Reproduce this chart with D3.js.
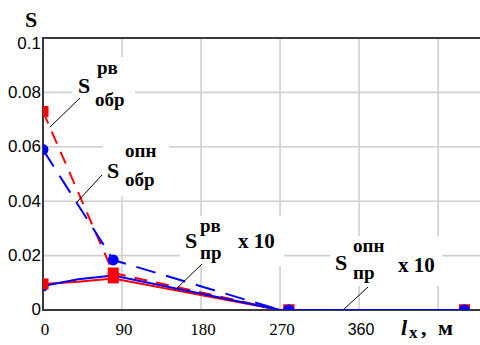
<!DOCTYPE html>
<html>
<head>
    <meta charset="utf-8">
    <script src="https://d3js.org/d3.v7.min.js"></script>
    <style>
        body { margin: 0; background: #fff; }
    </style>
</head>
<body>
    <div id="chart"></div>

    <script>
        // Line points
        const xLine = [0, 40, 80, 270, 480];
        const sObrRv = [0.073, 0.0433, 0.0136, 0, 0];
        const sObrOpn = [0.059, 0.0386, 0.0184, 0, 0];
        const sPrRv10 = [0.0096, 0.0104, 0.0116, 0, 0];
        const sPrOpn10 = [0.0088, 0.0113, 0.0127, 0, 0];

        // Marker points
        const xMark = [0, 80, 280, 480];
        const mObrRv = [0.073, 0.0136, 0, 0];
        const mObrOpn = [0.059, 0.0184, 0, 0];
        const mPrRv10 = [0.0096, 0.0118, 0, 0];
        const mPrOpn10 = [0.0088, 0.0127, 0, 0];

        const xTicks = [0, 90, 180, 270, 360, 450];
        const yTicks = [0, 0.02, 0.04, 0.06, 0.08, 0.1];

        const SERIF = "Liberation Serif, DejaVu Serif, Noto Serif, serif";
        const SANS = "Liberation Sans, Arial, sans-serif";

        const W = 480, H = 345;
        const pLeft = 43, pTop = 38, pBottom = 310, pRight = 482;

        const svg = d3.select("#chart").append("svg")
            .attr("width", W)
            .attr("height", H);

        const x = d3.scaleLinear().domain([0, 500]).range([pLeft, pRight]);
        const y = d3.scaleLinear().domain([0, 0.1]).range([pBottom, pTop]);

        svg.append("clipPath").attr("id", "plot")
            .append("rect")
            .attr("x", pLeft).attr("y", pTop)
            .attr("width", pRight - pLeft).attr("height", pBottom - pTop);

        // grid
        svg.append("g").selectAll("line")
            .data(yTicks.filter(d => d > 0 && d < 0.1))
            .join("line")
            .attr("x1", pLeft).attr("x2", W)
            .attr("y1", d => y(d)).attr("y2", d => y(d))
            .attr("stroke", "#d0d0d0").attr("stroke-width", 1.6);
        svg.append("g").selectAll("line")
            .data(xTicks.filter(d => d > 0))
            .join("line")
            .attr("x1", d => x(d)).attr("x2", d => x(d))
            .attr("y1", pTop).attr("y2", pBottom)
            .attr("stroke", "#d0d0d0").attr("stroke-width", 1.6);

        // label boxes hide the grid
        const boxes = [[72, 57, 63, 56], [103, 108, 66, 88], [180, 216, 104, 50], [330, 236, 112, 50]];
        svg.append("g").selectAll("rect")
            .data(boxes)
            .join("rect")
            .attr("x", d => d[0]).attr("y", d => d[1])
            .attr("width", d => d[2]).attr("height", d => d[3])
            .attr("fill", "#fff");

        // frame
        const frame = svg.append("g").attr("stroke", "#3a3a3a").attr("stroke-width", 2);
        frame.append("line").attr("x1", pLeft).attr("x2", W).attr("y1", pTop).attr("y2", pTop);
        frame.append("line").attr("x1", pLeft).attr("x2", pLeft).attr("y1", pTop - 1).attr("y2", pBottom + 1);
        frame.append("line").attr("x1", pLeft).attr("x2", W).attr("y1", pBottom).attr("y2", pBottom);

        // data
        const plot = svg.append("g").attr("clip-path", "url(#plot)");
        const line = d3.line().x((d, i) => x(xLine[i])).y(d => y(d));

        const series = [
            { v: sPrRv10, m: mPrRv10, color: "red", dash: null, shape: "sq" },
            { v: sObrRv, m: mObrRv, color: "red", dash: "13,9", shape: "sq" },
            { v: sPrOpn10, m: mPrOpn10, color: "blue", dash: null, shape: "ci" },
            { v: sObrOpn, m: mObrOpn, color: "blue", dash: "20,11", shape: "ci" }
        ];

        series.forEach(s => {
            plot.append("path")
                .attr("d", line(s.v))
                .attr("fill", "none")
                .attr("stroke", s.color)
                .attr("stroke-width", 2)
                .attr("stroke-dasharray", s.dash);
        });

        // markers: blue solid first, then red, blue dashed on top
        const markOrder = [series[2], series[0], series[1], series[3]];
        markOrder.forEach(s => {
            const g = plot.append("g").attr("fill", s.color);
            if (s.shape === "sq") {
                g.selectAll("rect").data(s.m).join("rect")
                    .attr("x", (d, i) => x(xMark[i]) - 5.5)
                    .attr("y", d => y(d) - 5.5)
                    .attr("width", 11).attr("height", 11);
            } else {
                g.selectAll("circle").data(s.m).join("circle")
                    .attr("cx", (d, i) => x(xMark[i]))
                    .attr("cy", d => y(d))
                    .attr("r", 5.5);
            }
        });

        // tick labels
        svg.append("g").selectAll("text")
            .data(yTicks)
            .join("text")
            .attr("x", 41)
            .attr("y", d => y(d) + (d === 0.1 ? 7 : 1))
            .attr("text-anchor", "end")
            .attr("dominant-baseline", "middle")
            .attr("font-family", SANS)
            .attr("font-size", 17)
            .text(d => d === 0 ? "0" : d3.format("~g")(d));

        svg.append("g").selectAll("text")
            .data(xTicks.filter(d => d < 450))
            .join("text")
            .attr("x", d => x(d) + 2)
            .attr("y", 335)
            .attr("text-anchor", "middle")
            .attr("font-family", d => d === 360 ? SANS : SERIF)
            .attr("font-size", d => d === 360 ? 16 : 17)
            .text(d => d);

        // bold serif text helper
        function bold(px, py, size, str) {
            return svg.append("text")
                .attr("x", px).attr("y", py)
                .attr("font-family", SERIF)
                .attr("font-weight", "bold")
                .attr("font-size", size)
                .text(str);
        }

        // axis titles
        bold(25, 27, 22, "S");
        const xt = bold(0, 335, 22, null);
        xt.append("tspan").attr("x", 401).attr("font-style", "italic").text("l");
        xt.append("tspan").attr("x", 409).attr("dy", 3).attr("font-size", 17).text("x");
        xt.append("tspan").attr("x", 421).attr("dy", -3).text(",");
        xt.append("tspan").attr("x", 438).text("м");

        // series labels
        const labels = [
            { sx: 78, sy: 93, sup: "рв", px: 97, py: 74, sub: "обр", bx: 95, by: 106, tail: null },
            { sx: 107, sy: 178, sup: "опн", px: 125, py: 157, sub: "обр", bx: 125, by: 186, tail: null },
            { sx: 185, sy: 248, sup: "рв", px: 200, py: 232, sub: "пр", bx: 200, by: 259, tail: [238, 248] },
            { sx: 335, sy: 270, sup: "опн", px: 353, py: 252, sub: "пр", bx: 353, by: 279, tail: [398, 272] }
        ];
        const leaders = [[80, 98, 50, 127], [102, 175, 77, 202], [202, 264, 175, 290], [368, 287, 343, 310]];

        svg.append("g").selectAll("line")
            .data(leaders)
            .join("line")
            .attr("x1", d => d[0]).attr("y1", d => d[1])
            .attr("x2", d => d[2]).attr("y2", d => d[3])
            .attr("stroke", "#000").attr("stroke-width", 1);

        labels.forEach(l => {
            bold(l.sx, l.sy, 22, "S");
            bold(l.px, l.py, 19, l.sup);
            bold(l.bx, l.by, 19, l.sub);
            if (l.tail) bold(l.tail[0], l.tail[1], 21, "x 10");
        });
    </script>
</body>
</html>
